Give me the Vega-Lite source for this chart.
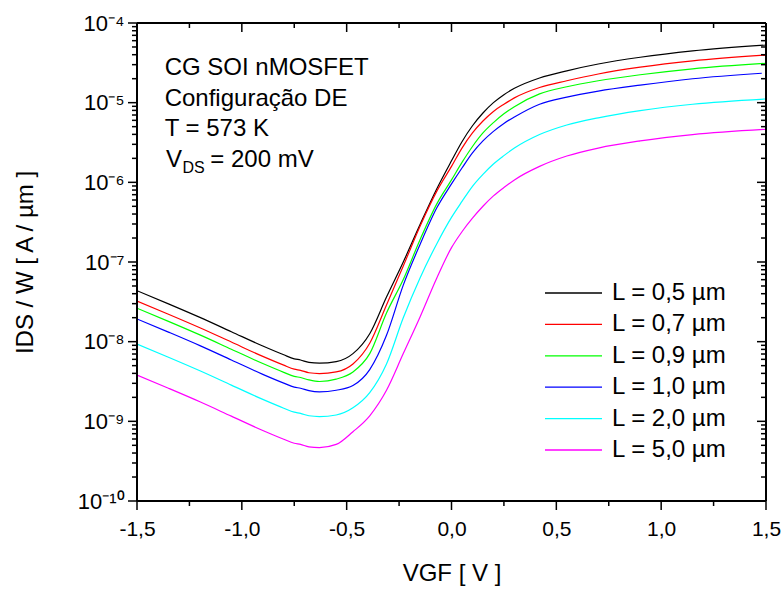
{
  "$schema": "https://vega.github.io/schema/vega-lite/v6.json",
  "width": 629,
  "height": 478,
  "autosize": {"type": "none"},
  "padding": {"left": 137, "top": 23, "right": 18, "bottom": 91},
  "config": {"font": "Liberation Sans", "view": {"stroke": null}},
  "datasets": {
    "curves": [
      {"L":"L = 0,5 µm","V":-1.5,"I":4.365e-8},{"L":"L = 0,5 µm","V":-1.35,"I":2.985e-8},{"L":"L = 0,5 µm","V":-1.2,"I":2.018e-8},{"L":"L = 0,5 µm","V":-1.05,"I":1.334e-8},{"L":"L = 0,5 µm","V":-0.9,"I":8.81e-9},{"L":"L = 0,5 µm","V":-0.8,"I":6.839e-9},{"L":"L = 0,5 µm","V":-0.75,"I":6.095e-9},{"L":"L = 0,5 µm","V":-0.72,"I":5.888e-9},{"L":"L = 0,5 µm","V":-0.68,"I":5.495e-9},{"L":"L = 0,5 µm","V":-0.63,"I":5.37e-9},{"L":"L = 0,5 µm","V":-0.55,"I":5.623e-9},{"L":"L = 0,5 µm","V":-0.47,"I":7.079e-9},{"L":"L = 0,5 µm","V":-0.39,"I":1.259e-8},{"L":"L = 0,5 µm","V":-0.31,"I":3.631e-8},{"L":"L = 0,5 µm","V":-0.23,"I":1.0e-7},{"L":"L = 0,5 µm","V":-0.15,"I":2.951e-7},{"L":"L = 0,5 µm","V":-0.07,"I":8.318e-7},{"L":"L = 0,5 µm","V":0,"I":1.862e-6},{"L":"L = 0,5 µm","V":0.05,"I":3.236e-6},{"L":"L = 0,5 µm","V":0.1,"I":5.129e-6},{"L":"L = 0,5 µm","V":0.15,"I":7.413e-6},{"L":"L = 0,5 µm","V":0.2,"I":1.0e-5},{"L":"L = 0,5 µm","V":0.25,"I":1.259e-5},{"L":"L = 0,5 µm","V":0.3,"I":1.514e-5},{"L":"L = 0,5 µm","V":0.42,"I":2.042e-5},{"L":"L = 0,5 µm","V":0.55,"I":2.512e-5},{"L":"L = 0,5 µm","V":0.7,"I":3.055e-5},{"L":"L = 0,5 µm","V":0.9,"I":3.715e-5},{"L":"L = 0,5 µm","V":1.15,"I":4.467e-5},{"L":"L = 0,5 µm","V":1.5,"I":5.297e-5},
      {"L":"L = 0,7 µm","V":-1.5,"I":3.236e-8},{"L":"L = 0,7 µm","V":-1.35,"I":2.213e-8},{"L":"L = 0,7 µm","V":-1.2,"I":1.496e-8},{"L":"L = 0,7 µm","V":-1.05,"I":9.886e-9},{"L":"L = 0,7 µm","V":-0.9,"I":6.531e-9},{"L":"L = 0,7 µm","V":-0.8,"I":5.07e-9},{"L":"L = 0,7 µm","V":-0.75,"I":4.519e-9},{"L":"L = 0,7 µm","V":-0.72,"I":4.365e-9},{"L":"L = 0,7 µm","V":-0.68,"I":4.074e-9},{"L":"L = 0,7 µm","V":-0.63,"I":3.981e-9},{"L":"L = 0,7 µm","V":-0.55,"I":4.169e-9},{"L":"L = 0,7 µm","V":-0.47,"I":5.248e-9},{"L":"L = 0,7 µm","V":-0.39,"I":9.55e-9},{"L":"L = 0,7 µm","V":-0.31,"I":2.884e-8},{"L":"L = 0,7 µm","V":-0.23,"I":8.913e-8},{"L":"L = 0,7 µm","V":-0.15,"I":2.818e-7},{"L":"L = 0,7 µm","V":-0.07,"I":7.762e-7},{"L":"L = 0,7 µm","V":0,"I":1.585e-6},{"L":"L = 0,7 µm","V":0.05,"I":2.692e-6},{"L":"L = 0,7 µm","V":0.1,"I":4.169e-6},{"L":"L = 0,7 µm","V":0.15,"I":5.888e-6},{"L":"L = 0,7 µm","V":0.2,"I":7.762e-6},{"L":"L = 0,7 µm","V":0.25,"I":9.55e-6},{"L":"L = 0,7 µm","V":0.3,"I":1.148e-5},{"L":"L = 0,7 µm","V":0.42,"I":1.549e-5},{"L":"L = 0,7 µm","V":0.55,"I":1.884e-5},{"L":"L = 0,7 µm","V":0.7,"I":2.291e-5},{"L":"L = 0,7 µm","V":0.9,"I":2.786e-5},{"L":"L = 0,7 µm","V":1.15,"I":3.35e-5},{"L":"L = 0,7 µm","V":1.5,"I":3.963e-5},
      {"L":"L = 0,9 µm","V":-1.5,"I":2.63e-8},{"L":"L = 0,9 µm","V":-1.35,"I":1.799e-8},{"L":"L = 0,9 µm","V":-1.2,"I":1.216e-8},{"L":"L = 0,9 µm","V":-1.05,"I":8.035e-9},{"L":"L = 0,9 µm","V":-0.9,"I":5.309e-9},{"L":"L = 0,9 µm","V":-0.8,"I":4.121e-9},{"L":"L = 0,9 µm","V":-0.75,"I":3.673e-9},{"L":"L = 0,9 µm","V":-0.72,"I":3.548e-9},{"L":"L = 0,9 µm","V":-0.68,"I":3.311e-9},{"L":"L = 0,9 µm","V":-0.63,"I":3.162e-9},{"L":"L = 0,9 µm","V":-0.55,"I":3.388e-9},{"L":"L = 0,9 µm","V":-0.47,"I":4.169e-9},{"L":"L = 0,9 µm","V":-0.39,"I":7.079e-9},{"L":"L = 0,9 µm","V":-0.31,"I":2.291e-8},{"L":"L = 0,9 µm","V":-0.23,"I":6.026e-8},{"L":"L = 0,9 µm","V":-0.15,"I":1.905e-7},{"L":"L = 0,9 µm","V":-0.07,"I":5.37e-7},{"L":"L = 0,9 µm","V":0,"I":1.072e-6},{"L":"L = 0,9 µm","V":0.05,"I":1.778e-6},{"L":"L = 0,9 µm","V":0.1,"I":2.818e-6},{"L":"L = 0,9 µm","V":0.15,"I":4.169e-6},{"L":"L = 0,9 µm","V":0.2,"I":5.623e-6},{"L":"L = 0,9 µm","V":0.25,"I":7.244e-6},{"L":"L = 0,9 µm","V":0.3,"I":8.913e-6},{"L":"L = 0,9 µm","V":0.42,"I":1.288e-5},{"L":"L = 0,9 µm","V":0.55,"I":1.585e-5},{"L":"L = 0,9 µm","V":0.7,"I":1.884e-5},{"L":"L = 0,9 µm","V":0.9,"I":2.239e-5},{"L":"L = 0,9 µm","V":1.15,"I":2.661e-5},{"L":"L = 0,9 µm","V":1.5,"I":3.119e-5},
      {"L":"L = 1,0 µm","V":-1.5,"I":1.928e-8},{"L":"L = 1,0 µm","V":-1.35,"I":1.318e-8},{"L":"L = 1,0 µm","V":-1.2,"I":8.913e-9},{"L":"L = 1,0 µm","V":-1.05,"I":5.888e-9},{"L":"L = 1,0 µm","V":-0.9,"I":3.89e-9},{"L":"L = 1,0 µm","V":-0.8,"I":3.02e-9},{"L":"L = 1,0 µm","V":-0.75,"I":2.692e-9},{"L":"L = 1,0 µm","V":-0.72,"I":2.6e-9},{"L":"L = 1,0 µm","V":-0.68,"I":2.427e-9},{"L":"L = 1,0 µm","V":-0.63,"I":2.344e-9},{"L":"L = 1,0 µm","V":-0.55,"I":2.455e-9},{"L":"L = 1,0 µm","V":-0.47,"I":2.818e-9},{"L":"L = 1,0 µm","V":-0.39,"I":4.467e-9},{"L":"L = 1,0 µm","V":-0.31,"I":1.202e-8},{"L":"L = 1,0 µm","V":-0.23,"I":5.129e-8},{"L":"L = 1,0 µm","V":-0.15,"I":1.66e-7},{"L":"L = 1,0 µm","V":-0.07,"I":4.786e-7},{"L":"L = 1,0 µm","V":0,"I":9.55e-7},{"L":"L = 1,0 µm","V":0.05,"I":1.514e-6},{"L":"L = 1,0 µm","V":0.1,"I":2.344e-6},{"L":"L = 1,0 µm","V":0.15,"I":3.311e-6},{"L":"L = 1,0 µm","V":0.2,"I":4.365e-6},{"L":"L = 1,0 µm","V":0.25,"I":5.495e-6},{"L":"L = 1,0 µm","V":0.3,"I":6.607e-6},{"L":"L = 1,0 µm","V":0.42,"I":9.55e-6},{"L":"L = 1,0 µm","V":0.55,"I":1.175e-5},{"L":"L = 1,0 µm","V":0.7,"I":1.396e-5},{"L":"L = 1,0 µm","V":0.9,"I":1.66e-5},{"L":"L = 1,0 µm","V":1.15,"I":1.995e-5},{"L":"L = 1,0 µm","V":1.48,"I":2.339e-5},
      {"L":"L = 2,0 µm","V":-1.5,"I":9.333e-9},{"L":"L = 2,0 µm","V":-1.35,"I":6.383e-9},{"L":"L = 2,0 µm","V":-1.2,"I":4.315e-9},{"L":"L = 2,0 µm","V":-1.05,"I":2.851e-9},{"L":"L = 2,0 µm","V":-0.9,"I":1.884e-9},{"L":"L = 2,0 µm","V":-0.8,"I":1.462e-9},{"L":"L = 2,0 µm","V":-0.75,"I":1.303e-9},{"L":"L = 2,0 µm","V":-0.72,"I":1.259e-9},{"L":"L = 2,0 µm","V":-0.68,"I":1.175e-9},{"L":"L = 2,0 µm","V":-0.63,"I":1.148e-9},{"L":"L = 2,0 µm","V":-0.55,"I":1.202e-9},{"L":"L = 2,0 µm","V":-0.47,"I":1.479e-9},{"L":"L = 2,0 µm","V":-0.39,"I":2.291e-9},{"L":"L = 2,0 µm","V":-0.31,"I":5.248e-9},{"L":"L = 2,0 µm","V":-0.23,"I":1.995e-8},{"L":"L = 2,0 µm","V":-0.15,"I":6.31e-8},{"L":"L = 2,0 µm","V":-0.07,"I":1.698e-7},{"L":"L = 2,0 µm","V":0,"I":3.631e-7},{"L":"L = 2,0 µm","V":0.05,"I":5.754e-7},{"L":"L = 2,0 µm","V":0.1,"I":8.913e-7},{"L":"L = 2,0 µm","V":0.15,"I":1.259e-6},{"L":"L = 2,0 µm","V":0.2,"I":1.698e-6},{"L":"L = 2,0 µm","V":0.25,"I":2.163e-6},{"L":"L = 2,0 µm","V":0.3,"I":2.692e-6},{"L":"L = 2,0 µm","V":0.42,"I":3.981e-6},{"L":"L = 2,0 µm","V":0.55,"I":5.248e-6},{"L":"L = 2,0 µm","V":0.7,"I":6.457e-6},{"L":"L = 2,0 µm","V":0.9,"I":7.943e-6},{"L":"L = 2,0 µm","V":1.15,"I":9.55e-6},{"L":"L = 2,0 µm","V":1.5,"I":1.112e-5},
      {"L":"L = 5,0 µm","V":-1.5,"I":3.802e-9},{"L":"L = 5,0 µm","V":-1.35,"I":2.6e-9},{"L":"L = 5,0 µm","V":-1.2,"I":1.758e-9},{"L":"L = 5,0 µm","V":-1.05,"I":1.161e-9},{"L":"L = 5,0 µm","V":-0.9,"I":7.674e-10},{"L":"L = 5,0 µm","V":-0.8,"I":5.957e-10},{"L":"L = 5,0 µm","V":-0.75,"I":5.309e-10},{"L":"L = 5,0 µm","V":-0.72,"I":5.129e-10},{"L":"L = 5,0 µm","V":-0.68,"I":4.786e-10},{"L":"L = 5,0 µm","V":-0.63,"I":4.677e-10},{"L":"L = 5,0 µm","V":-0.55,"I":5.129e-10},{"L":"L = 5,0 µm","V":-0.47,"I":7.413e-10},{"L":"L = 5,0 µm","V":-0.39,"I":1.175e-9},{"L":"L = 5,0 µm","V":-0.31,"I":2.455e-9},{"L":"L = 5,0 µm","V":-0.23,"I":7.079e-9},{"L":"L = 5,0 µm","V":-0.15,"I":2.042e-8},{"L":"L = 5,0 µm","V":-0.07,"I":6.31e-8},{"L":"L = 5,0 µm","V":0,"I":1.514e-7},{"L":"L = 5,0 µm","V":0.05,"I":2.399e-7},{"L":"L = 5,0 µm","V":0.1,"I":3.548e-7},{"L":"L = 5,0 µm","V":0.15,"I":5.012e-7},{"L":"L = 5,0 µm","V":0.2,"I":6.761e-7},{"L":"L = 5,0 µm","V":0.25,"I":8.61e-7},{"L":"L = 5,0 µm","V":0.3,"I":1.072e-6},{"L":"L = 5,0 µm","V":0.42,"I":1.585e-6},{"L":"L = 5,0 µm","V":0.55,"I":2.138e-6},{"L":"L = 5,0 µm","V":0.7,"I":2.692e-6},{"L":"L = 5,0 µm","V":0.9,"I":3.311e-6},{"L":"L = 5,0 µm","V":1.15,"I":3.981e-6},{"L":"L = 5,0 µm","V":1.5,"I":4.634e-6}
    ],
    "xticks": [
      {"t": -1.5, "kind": "major"}, {"t": -1.25, "kind": "minor"}, {"t": -1, "kind": "major"}, {"t": -0.75, "kind": "minor"}, {"t": -0.5, "kind": "major"}, {"t": -0.25, "kind": "minor"}, {"t": 0, "kind": "major"}, {"t": 0.25, "kind": "minor"}, {"t": 0.5, "kind": "major"}, {"t": 0.75, "kind": "minor"}, {"t": 1, "kind": "major"}, {"t": 1.25, "kind": "minor"}, {"t": 1.5, "kind": "major"}
    ],
    "yticks": [
      {"t":1e-10,"kind":"major"},{"t":2e-10,"kind":"minor"},{"t":3e-10,"kind":"minor"},{"t":4e-10,"kind":"minor"},{"t":5e-10,"kind":"minor"},{"t":6e-10,"kind":"minor"},{"t":7e-10,"kind":"minor"},{"t":8e-10,"kind":"minor"},{"t":9e-10,"kind":"minor"},
      {"t":1e-9,"kind":"major"},{"t":2e-9,"kind":"minor"},{"t":3e-9,"kind":"minor"},{"t":4e-9,"kind":"minor"},{"t":5e-9,"kind":"minor"},{"t":6e-9,"kind":"minor"},{"t":7e-9,"kind":"minor"},{"t":8e-9,"kind":"minor"},{"t":9e-9,"kind":"minor"},
      {"t":1e-8,"kind":"major"},{"t":2e-8,"kind":"minor"},{"t":3e-8,"kind":"minor"},{"t":4e-8,"kind":"minor"},{"t":5e-8,"kind":"minor"},{"t":6e-8,"kind":"minor"},{"t":7e-8,"kind":"minor"},{"t":8e-8,"kind":"minor"},{"t":9e-8,"kind":"minor"},
      {"t":1e-7,"kind":"major"},{"t":2e-7,"kind":"minor"},{"t":3e-7,"kind":"minor"},{"t":4e-7,"kind":"minor"},{"t":5e-7,"kind":"minor"},{"t":6e-7,"kind":"minor"},{"t":7e-7,"kind":"minor"},{"t":8e-7,"kind":"minor"},{"t":9e-7,"kind":"minor"},
      {"t":1e-6,"kind":"major"},{"t":2e-6,"kind":"minor"},{"t":3e-6,"kind":"minor"},{"t":4e-6,"kind":"minor"},{"t":5e-6,"kind":"minor"},{"t":6e-6,"kind":"minor"},{"t":7e-6,"kind":"minor"},{"t":8e-6,"kind":"minor"},{"t":9e-6,"kind":"minor"},
      {"t":1e-5,"kind":"major"},{"t":2e-5,"kind":"minor"},{"t":3e-5,"kind":"minor"},{"t":4e-5,"kind":"minor"},{"t":5e-5,"kind":"minor"},{"t":6e-5,"kind":"minor"},{"t":7e-5,"kind":"minor"},{"t":8e-5,"kind":"minor"},{"t":9e-5,"kind":"minor"},
      {"t":1e-4,"kind":"major"}
    ]
  },
  "layer": [
    {
      "data": {"name": "curves"},
      "mark": {"type": "line", "interpolate": "monotone", "strokeWidth": 1.2, "clip": true},
      "encoding": {
        "x": {
          "field": "V", "type": "quantitative",
          "scale": {"domain": [-1.5, 1.5], "nice": false, "zero": false},
          "axis": {
            "orient": "bottom",
            "values": [-1.5, -1, -0.5, 0, 0.5, 1, 1.5],
            "labelExpr": "replace(replace(format(datum.value, '.1f'), '.', ','), '\u2212', '-')",
            "grid": false, "ticks": true, "domain": false,
            "tickOpacity": 0, "tickSize": 9,
            "labelFontSize": 21, "labelColor": "black", "labelPadding": 8,
            "labelFlush": false, "labelOverlap": false, "labelBound": false,
            "title": "VGF [ V ]", "titleFontSize": 24, "titleFontWeight": "normal", "titleColor": "black", "titlePadding": 22
          }
        },
        "y": {
          "field": "I", "type": "quantitative",
          "scale": {"type": "log", "domain": [1e-10, 1e-4], "nice": false},
          "axis": {
            "orient": "left",
            "values": [1e-10, 1e-9, 1e-8, 1e-7, 1e-6, 1e-5, 1e-4],
            "labelExpr": "['10\u207B\u00B9\u2070','10\u207B\u2079','10\u207B\u2078','10\u207B\u2077','10\u207B\u2076','10\u207B\u2075','10\u207B\u2074'][round(log(datum.value)/LN10) + 10]",
            "grid": false, "ticks": true, "domain": false,
            "tickOpacity": 0, "tickSize": 9,
            "labelFontSize": 22, "labelColor": "black", "labelPadding": 4,
            "labelOverlap": false, "labelBound": false, "labelFlush": false,
            "title": "IDS / W [ A / µm ]", "titleFontSize": 24, "titleFontWeight": "normal", "titleColor": "black", "titlePadding": 40
          }
        },
        "color": {
          "field": "L", "type": "nominal",
          "scale": {
            "domain": ["L = 0,5 µm", "L = 0,7 µm", "L = 0,9 µm", "L = 1,0 µm", "L = 2,0 µm", "L = 5,0 µm"],
            "range": ["#000000", "#ff0000", "#00ff00", "#0000ff", "#00ffff", "#ff00ff"]
          },
          "legend": {
            "orient": "bottom-right", "offset": 39, "padding": 0, "title": null,
            "labelFontSize": 24, "labelColor": "black", "labelLimit": 0,
            "symbolType": "stroke", "symbolSize": 3249, "symbolStrokeWidth": 1.3,
            "labelOffset": 9, "clipHeight": 24, "rowPadding": 7.4
          }
        }
      }
    },
    {
      "data": {"values": [{}]},
      "mark": {"type": "point", "shape": "M0,0H1", "filled": false, "opacity": 1, "stroke": "black", "strokeWidth": 2, "size": 1582564},
      "encoding": {
        "x": {"datum": -1.5, "type": "quantitative"},
        "y": {"datum": 1e-10, "type": "quantitative"}
      }
    },
    {
      "data": {"values": [{}]},
      "mark": {"type": "point", "shape": "M0,0H1", "filled": false, "opacity": 1, "stroke": "black", "strokeWidth": 2, "size": 1582564},
      "encoding": {
        "x": {"datum": -1.5, "type": "quantitative"},
        "y": {"datum": 1e-4, "type": "quantitative"}
      }
    },
    {
      "data": {"values": [{}]},
      "mark": {"type": "point", "shape": "M0,0V1", "filled": false, "opacity": 1, "stroke": "black", "strokeWidth": 2, "size": 913936},
      "encoding": {
        "x": {"datum": -1.5, "type": "quantitative"},
        "y": {"datum": 1e-4, "type": "quantitative"}
      }
    },
    {
      "data": {"values": [{}]},
      "mark": {"type": "point", "shape": "M0,0V1", "filled": false, "opacity": 1, "stroke": "black", "strokeWidth": 2, "size": 913936},
      "encoding": {
        "x": {"datum": 1.5, "type": "quantitative"},
        "y": {"datum": 1e-4, "type": "quantitative"}
      }
    },
    {
      "data": {"name": "xticks"},
      "mark": {"type": "point", "shape": "M0,0V1", "filled": false, "opacity": 1, "stroke": "black", "strokeWidth": 1.5},
      "encoding": {
        "x": {"field": "t", "type": "quantitative"},
        "y": {"datum": 1e-10, "type": "quantitative"},
        "size": {"condition": {"test": "datum.kind == 'major'", "value": 324}, "value": 100}
      }
    },
    {
      "data": {"name": "xticks"},
      "mark": {"type": "point", "shape": "M0,0V1", "filled": false, "opacity": 1, "stroke": "black", "strokeWidth": 1.5},
      "encoding": {
        "x": {"field": "t", "type": "quantitative"},
        "y": {"datum": 1e-4, "type": "quantitative"},
        "size": {"condition": {"test": "datum.kind == 'major'", "value": 324}, "value": 100}
      }
    },
    {
      "data": {"name": "yticks"},
      "mark": {"type": "point", "shape": "M0,0H-1", "filled": false, "opacity": 1, "stroke": "black", "strokeWidth": 1.5},
      "encoding": {
        "x": {"datum": -1.5, "type": "quantitative"},
        "y": {"field": "t", "type": "quantitative"},
        "size": {"condition": {"test": "datum.kind == 'major'", "value": 324}, "value": 100}
      }
    },
    {
      "data": {"name": "yticks"},
      "mark": {"type": "point", "shape": "M0,0H-1", "filled": false, "opacity": 1, "stroke": "black", "strokeWidth": 1.5},
      "encoding": {
        "x": {"datum": 1.5, "type": "quantitative"},
        "y": {"field": "t", "type": "quantitative"},
        "size": {"condition": {"test": "datum.kind == 'major'", "value": 324}, "value": 100}
      }
    },
    {
      "data": {"values": [{}]},
      "mark": {"type": "text", "text": ["CG SOI nMOSFET", "Configuração DE", "T = 573 K"], "lineHeight": 30.67, "fontSize": 24, "align": "left", "baseline": "alphabetic", "color": "black"},
      "encoding": {
        "x": {"datum": -1.368, "type": "quantitative"},
        "y": {"datum": 2.225e-5, "type": "quantitative"}
      }
    },
    {
      "data": {"values": [{}]},
      "mark": {"type": "text", "text": "V", "fontSize": 24, "align": "left", "baseline": "alphabetic", "color": "black"},
      "encoding": {
        "x": {"datum": -1.3617, "type": "quantitative"},
        "y": {"datum": 1.558e-6, "type": "quantitative"}
      }
    },
    {
      "data": {"values": [{}]},
      "mark": {"type": "text", "text": "DS", "fontSize": 16, "align": "left", "baseline": "alphabetic", "color": "black"},
      "encoding": {
        "x": {"datum": -1.283, "type": "quantitative"},
        "y": {"datum": 1.297e-6, "type": "quantitative"}
      }
    },
    {
      "data": {"values": [{}]},
      "mark": {"type": "text", "text": "= 200 mV", "fontSize": 24, "align": "left", "baseline": "alphabetic", "color": "black"},
      "encoding": {
        "x": {"datum": -1.1505, "type": "quantitative"},
        "y": {"datum": 1.558e-6, "type": "quantitative"}
      }
    }
  ]
}
